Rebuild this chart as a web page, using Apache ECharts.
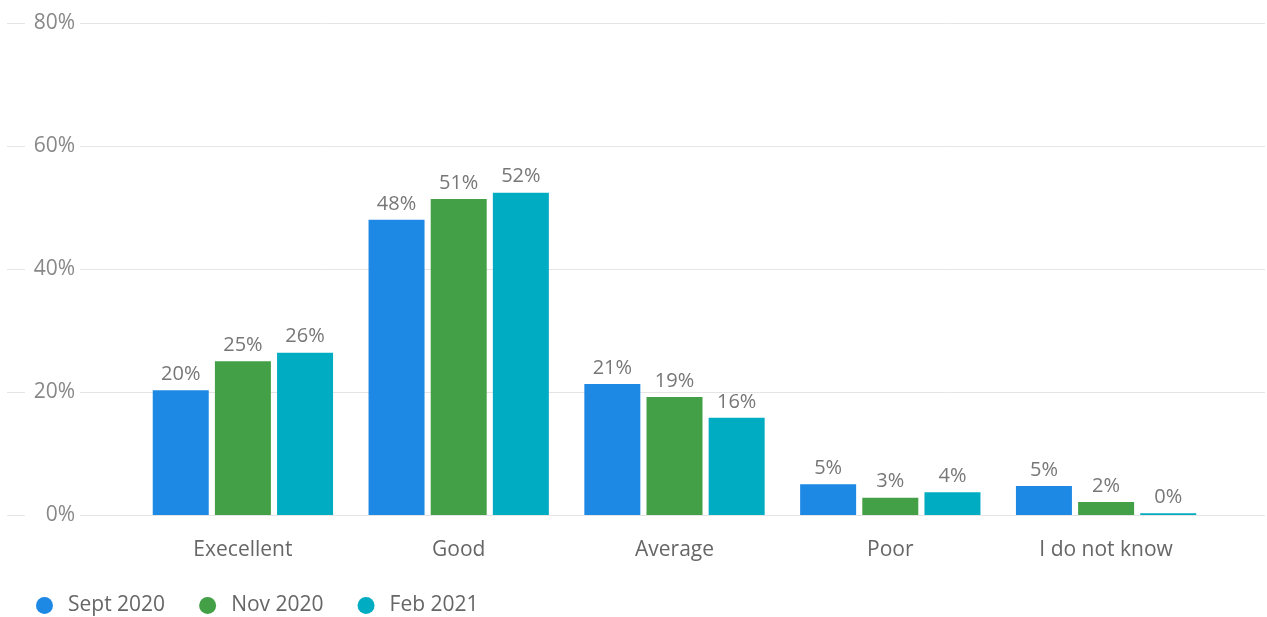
<!DOCTYPE html>
<html>
<head>
<meta charset="utf-8">
<script src="https://cdn.jsdelivr.net/npm/echarts@6/dist/echarts.min.js"></script>
<style>
html,body{margin:0;padding:0;background:#fff;}
#chart{width:1267px;height:617px;}
</style>
</head>
<body>
<div id="chart"></div>
<script>
const categories = ['Execellent', 'Good', 'Average', 'Poor', 'I do not know'];
const seriesNames = ['Sept 2020', 'Nov 2020', 'Feb 2021'];
const sept2020 = [20.3, 48.0, 21.3, 5.0, 4.7];
const nov2020 = [25.0, 51.4, 19.2, 2.8, 2.1];
const feb2021 = [26.4, 52.4, 15.8, 3.7, 0.3];
const yTicks = [0, 20, 40, 60, 80];

const colors = ['#1E88E5', '#43A047', '#00ACC1'];
const fontFamily = '"Open Sans", "Noto Sans", sans-serif';
const values = [sept2020, nov2020, feb2021];

const chart = echarts.init(document.getElementById('chart'));
chart.setOption({
  animation: false,
  textStyle: { fontFamily: fontFamily },
  legend: {
    left: 31, bottom: -4,
    icon: 'circle', itemWidth: 17, itemHeight: 17, itemGap: 34,
    textStyle: { fontSize: 21, color: '#666', fontFamily: fontFamily, padding: [0, 0, 0, 10] },
    data: seriesNames
  },
  grid: [
    { left: 7, right: 2, top: 23, bottom: 102 },
    { left: 135, right: 53, top: 23, bottom: 102 }
  ],
  xAxis: [
    { gridIndex: 0, type: 'value', min: 0, max: 1, show: false },
    {
      gridIndex: 1, type: 'category', data: categories,
      axisLine: { show: false }, axisTick: { show: false },
      axisLabel: { color: '#666', fontSize: 21, margin: 25, fontFamily: fontFamily }
    }
  ],
  yAxis: [
    {
      gridIndex: 0, type: 'value', min: yTicks[0], max: yTicks[yTicks.length - 1], interval: 20,
      axisLine: { show: false }, axisTick: { show: false },
      splitLine: { lineStyle: { color: '#e5e5e5', width: 1 } },
      axisLabel: {
        inside: true, align: 'right', margin: 73, width: 50,
        padding: [4, 5, 0, 0], backgroundColor: '#fff',
        color: '#888', fontSize: 21, fontFamily: fontFamily,
        formatter: '{value}%'
      },
      z: 5
    },
    { gridIndex: 1, type: 'value', min: 0, max: 80, show: false }
  ],
  series: seriesNames.map((name, i) => ({
    name: name,
    type: 'bar',
    xAxisIndex: 1, yAxisIndex: 1,
    data: values[i],
    barWidth: 56,
    barGap: '11%',
    itemStyle: { color: colors[i] },
    label: {
      show: true, position: 'top', distance: 6,
      color: '#777', fontSize: 20, fontFamily: fontFamily,
      formatter: p => Math.round(p.value) + '%'
    },
    z: 10
  }))
});
</script>
</body>
</html>
